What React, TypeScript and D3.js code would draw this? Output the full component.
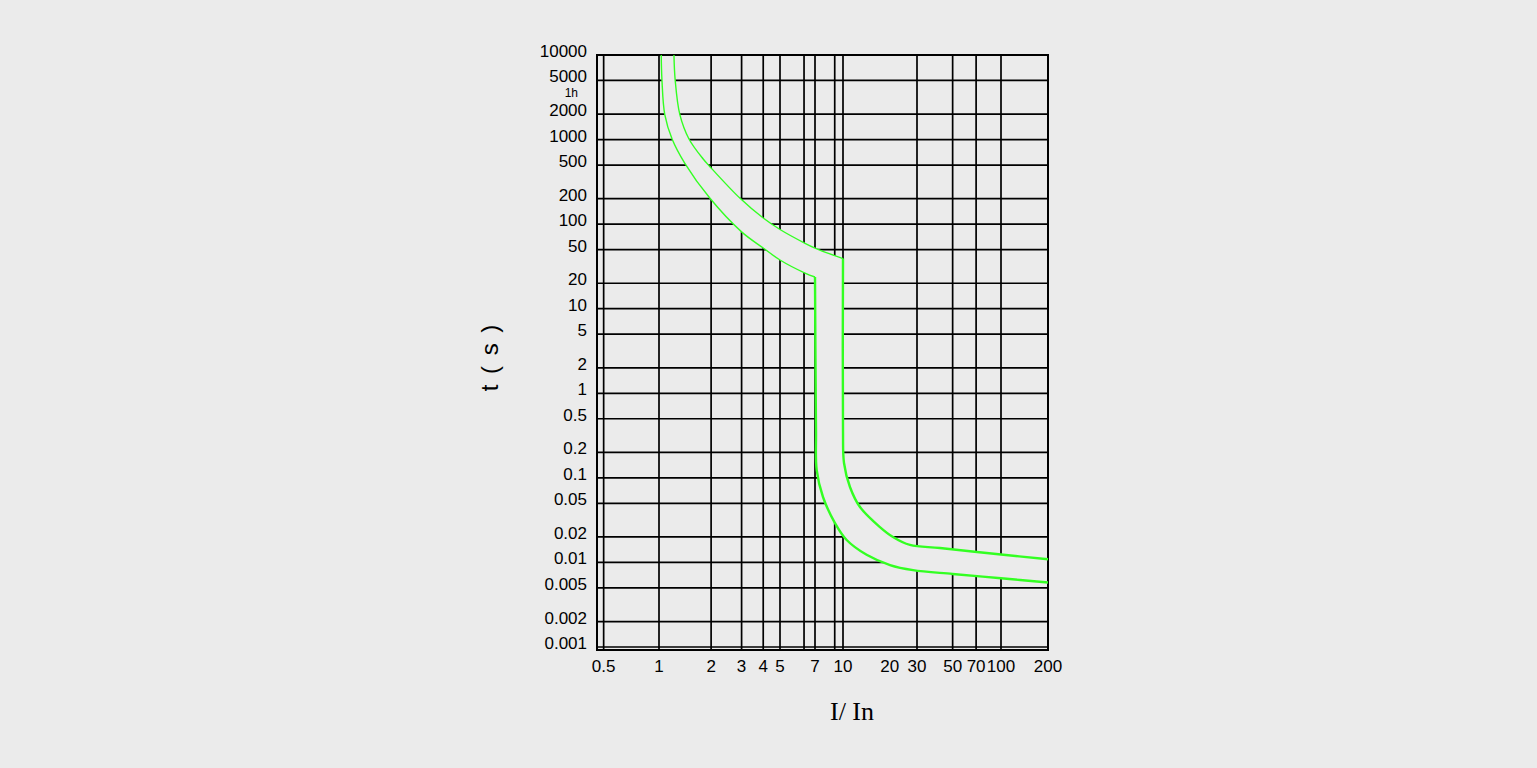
import * as d3 from "d3";

type Pt = [number, number];

// grid values (I/In) and time values (s)
const xGridValues = [0.5, 1, 2, 3, 4, 5, 6.3, 7, 9, 10, 30, 50, 70, 100];
const xTickValues = [0.5, 1, 2, 3, 4, 5, 7, 10, 20, 30, 50, 70, 100, 200];
const xTickLabels = ["0.5", "1", "2", "3", "4", "5", "7", "10", "20", "30", "50", "70", "100", "200"];

const yTickValues = [10000, 5000, 2000, 1000, 500, 200, 100, 50, 20, 10, 5, 2, 1, 0.5, 0.2, 0.1, 0.05, 0.02, 0.01, 0.005, 0.002, 0.001];
const yTickLabels = ["10000", "5000", "2000", "1000", "500", "200", "100", "50", "20", "10", "5", "2", "1", "0.5", "0.2", "0.1", "0.05", "0.02", "0.01", "0.005", "0.002", "0.001"];

// left (lower) boundary of the tripping band
const leftThermal: Pt[] = [
    [1.03, 10000], [1.04, 5060], [1.08, 1970], [1.19, 1016], [1.41, 524], [1.97, 202],
    [3.0, 81], [4.0, 52.2], [5.0, 37.7], [6.36, 26.4], [7.0, 23.7]
];
const leftMagnetic: Pt[] = [
    [7.0, 23.7], [7.09, 0.368], [7.15, 0.124], [7.75, 0.0594], [9.03, 0.0292], [10.56, 0.0184],
    [14.2, 0.0123], [20.1, 0.0093], [28.3, 0.0081], [50, 0.0073], [100, 0.0065], [200, 0.0058]
];

// right (upper) boundary of the tripping band
const rightThermal: Pt[] = [
    [1.22, 10000], [1.24, 5060], [1.32, 1970], [1.49, 1016], [1.8, 589], [1.97, 478],
    [2.94, 202], [4.0, 118], [5.0, 86.4], [6.36, 59.4], [7.0, 52.2], [8.47, 44.4], [10.0, 39.2]
];
const rightMagnetic: Pt[] = [
    [10.0, 39.2], [10.0, 0.368], [10.15, 0.15], [11.09, 0.078], [12.87, 0.0452], [17.3, 0.0262],
    [21.0, 0.02], [27.0, 0.0161], [41.7, 0.0148], [100, 0.0124], [200, 0.0109]
];

export default function App() {
    const width = 1537;
    const height = 768;
    const bg = "#ebebeb";
    const green = "#33ff22";

    // hand drawn paper: logarithmic but not evenly spaced on the current axis
    const x = d3.scaleLog()
        .domain([0.46, 1, 5, 7, 10, 30, 100, 200])
        .range([597, 659, 780, 815, 843, 917, 1001, 1048]);
    const y = d3.scaleLog().domain([0.001, 10000]).range([647, 55]);

    const left = x(0.46);
    const right = x(200);
    const top = y(10000);
    const bottom = y(0.001) + 3;

    const line = d3
        .line<Pt>()
        .x(d => x(d[0]))
        .y(d => y(d[1]))
        .curve(d3.curveCatmullRom.alpha(0.5));
    const cont = (pts: Pt[]) => String(line(pts)).replace(/^M/, "L");

    const band =
        String(line(leftThermal)) +
        cont(leftMagnetic) +
        cont([...rightMagnetic].reverse()) +
        cont([...rightThermal].reverse()) +
        "Z";

    const labelFont = "'Liberation Sans', Arial, sans-serif";

    return (
        <div style={{ position: "fixed", left: 0, top: 0, width, height, background: bg }}>
            <svg width={width} height={height} style={{ display: "block" }}>
                <rect x={0} y={0} width={width} height={height} fill={bg} />

                <g stroke="#000" strokeWidth={1.7}>
                    {yTickValues.map(v => (
                        <line key={"h" + v} x1={left} x2={right} y1={y(v)} y2={y(v)} />
                    ))}
                    {xGridValues.map(v => (
                        <line key={"v" + v} x1={x(v)} x2={x(v)} y1={top} y2={bottom} />
                    ))}
                </g>

                <path d={band} fill={bg} stroke="none" />

                <rect x={left} y={top} width={right - left} height={bottom - top} fill="none" stroke="#000" strokeWidth={2} />

                <g fill="none" stroke={green}>
                    <path d={String(line(leftThermal))} strokeWidth={1.4} />
                    <path d={String(line(rightThermal))} strokeWidth={1.4} />
                    <path d={String(line(leftMagnetic))} strokeWidth={2.4} />
                    <path d={String(line(rightMagnetic))} strokeWidth={2.4} />
                </g>

                <g fontFamily={labelFont} fontSize={17} fill="#000">
                    {yTickValues.map((v, i) => (
                        <text key={"yl" + v} x={587} y={y(v) - 3.5} textAnchor="end" dominantBaseline="central">
                            {yTickLabels[i]}
                        </text>
                    ))}
                    {xTickValues.map((v, i) => (
                        <text key={"xl" + v} x={x(v)} y={672} textAnchor="middle">
                            {xTickLabels[i]}
                        </text>
                    ))}
                    <text x={578} y={y(3600)} textAnchor="end" dominantBaseline="central" fontSize={12}>
                        1h
                    </text>
                </g>

                <text
                    transform="translate(489,357) rotate(-90)"
                    textAnchor="middle"
                    dominantBaseline="central"
                    fontFamily={labelFont}
                    fontSize={24}
                    letterSpacing={2}
                >
                    t ( s )
                </text>
                <text x={852} y={720} textAnchor="middle" fontFamily="'Liberation Serif', serif" fontSize={26}>
                    I/ In
                </text>
            </svg>
        </div>
    );
}
